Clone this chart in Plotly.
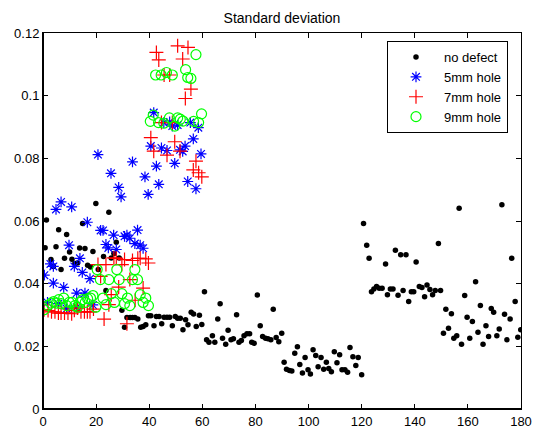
import plotly.graph_objects as go

# ---- data ----
nd_x = [0.8, 1.3, 3.0, 3.9, 4.9, 5.9, 6.8, 8.1, 8.9, 10.0, 10.9, 12.0, 13.0, 13.8, 14.9, 15.8,
        16.8, 17.9, 18.8, 19.9, 20.8, 22.8, 23.7, 24.8, 25.7, 26.7, 27.6, 28.7, 29.7, 30.7,
        31.6, 32.8, 33.7, 34.6, 35.7, 36.8, 37.7, 38.7, 39.7, 40.6, 41.8, 42.7, 43.7, 44.7,
        45.6, 46.7, 47.7, 48.7, 49.8, 50.7, 51.7, 52.7, 53.7, 54.6, 55.8, 56.7, 57.7, 58.9,
        59.8, 60.8, 61.6, 62.5, 63.8, 64.7, 65.8, 66.7, 67.6, 68.8, 69.7, 70.8, 71.7, 72.9,
        73.8, 74.7, 75.7, 76.8, 77.8, 78.6, 79.5, 80.7, 81.8, 82.7, 83.8, 84.7, 85.8, 86.7,
        87.8, 88.8, 89.9, 90.8, 91.7, 92.8, 93.7, 94.8, 95.8, 96.7, 97.7, 98.7, 99.8, 100.7,
        101.7, 102.7, 103.6, 104.7, 105.7, 106.7, 107.6, 108.6, 109.7, 110.7, 111.7, 112.6,
        113.7, 114.7, 115.6, 116.7, 117.8, 118.7, 120.0, 120.7, 121.9, 122.8, 123.7, 124.6,
        125.6, 126.6, 127.7, 129.0, 129.7, 130.8, 131.8, 132.7, 133.7, 134.7, 135.6, 136.7,
        137.7, 138.7, 139.6, 140.5, 141.7, 142.7, 143.7, 144.6, 145.7, 146.7, 147.7, 148.9,
        149.7, 150.8, 151.7, 152.7, 153.8, 154.7, 155.8, 156.7, 157.6, 158.8, 159.7, 160.7,
        161.7, 162.9, 163.8, 164.7, 165.7, 166.8, 167.8, 168.8, 169.7, 170.9, 171.8, 172.8,
        173.8, 174.7, 175.9, 176.5, 177.8, 178.8, 179.9]
nd_y = [0.0515, 0.0603, 0.0477, 0.0455, 0.0518, 0.0572, 0.0445, 0.0481, 0.0557, 0.0501, 0.0478,
        0.0464, 0.0466, 0.0514, 0.0592, 0.0512, 0.0459, 0.0453, 0.0503, 0.0656, 0.0445, 0.0487,
        0.0378, 0.0628, 0.0482, 0.0496, 0.0532, 0.0482, 0.0315, 0.0261, 0.0292, 0.0292, 0.0292,
        0.0292, 0.0287, 0.0261, 0.0263, 0.0269, 0.0298, 0.0298, 0.0266, 0.0295, 0.0295, 0.0272,
        0.0293, 0.0293, 0.0293, 0.0266, 0.0295, 0.0290, 0.0290, 0.0253, 0.0285, 0.0269, 0.0309,
        0.0303, 0.0263, 0.0299, 0.0270, 0.0374, 0.0221, 0.0213, 0.0234, 0.0213, 0.0287, 0.0336,
        0.0226, 0.0207, 0.0251, 0.0221, 0.0224, 0.0301, 0.0213, 0.0219, 0.0234, 0.0240, 0.0240,
        0.0213, 0.0210, 0.0364, 0.0266, 0.0231, 0.0226, 0.0224, 0.0221, 0.0318, 0.0228, 0.0215,
        0.0242, 0.0149, 0.0127, 0.0123, 0.0121, 0.0178, 0.0199, 0.0142, 0.0115, 0.0164, 0.0125,
        0.0112, 0.0189, 0.0171, 0.0135, 0.0164, 0.0127, 0.0149, 0.0129, 0.0119, 0.0183, 0.0148,
        0.0173, 0.0125, 0.0125, 0.0117, 0.0196, 0.0167, 0.0139, 0.0164, 0.0109, 0.0592, 0.0523,
        0.0481, 0.0374, 0.0383, 0.0391, 0.0385, 0.0385, 0.0463, 0.0365, 0.0383, 0.0383, 0.0507,
        0.0363, 0.0492, 0.0378, 0.0492, 0.0343, 0.0374, 0.0374, 0.0469, 0.0391, 0.0388, 0.0358,
        0.0396, 0.0381, 0.0365, 0.0378, 0.0528, 0.0378, 0.0242, 0.0318, 0.0258, 0.0304, 0.0226,
        0.0234, 0.0641, 0.0207, 0.0362, 0.0293, 0.0226, 0.0279, 0.0406, 0.0245, 0.0330, 0.0207,
        0.0266, 0.0231, 0.0321, 0.0309, 0.0234, 0.0255, 0.0652, 0.0302, 0.0221, 0.0287, 0.0481,
        0.0343, 0.0229, 0.0253]

h5_x = [0.5, 1.7, 2.8, 3.9, 3.9, 4.9, 5.8, 6.8, 7.8, 8.9, 9.8, 10.8, 11.8, 12.7, 12.7, 13.9,
        14.8, 15.8, 16.7, 17.7, 18.8, 20.7, 21.7, 22.6, 23.7, 24.6, 25.6, 26.6, 27.6, 28.5,
        29.4, 30.7, 31.6, 32.7, 33.7, 34.6, 35.6, 36.6, 37.7, 38.4, 39.6, 40.6, 41.7, 42.7,
        43.6, 44.6, 45.5, 46.7, 47.7, 48.7, 49.6, 50.7, 51.6, 52.6, 53.5, 54.5, 55.5, 56.6,
        57.6, 58.5, 59.5]
h5_y = [0.0427, 0.0340, 0.0463, 0.0455, 0.0402, 0.0637, 0.0336, 0.0661, 0.0388, 0.0320, 0.0523,
        0.0645, 0.0455, 0.0325, 0.0370, 0.0481, 0.0436, 0.0370, 0.0596, 0.0416, 0.0332, 0.0812,
        0.0570, 0.0570, 0.0525, 0.0514, 0.0752, 0.0555, 0.0509, 0.0707, 0.0677, 0.0551, 0.0555,
        0.0545, 0.0789, 0.0528, 0.0571, 0.0523, 0.0513, 0.0741, 0.0685, 0.0839, 0.0946, 0.0775,
        0.0717, 0.0833, 0.0914, 0.0825, 0.0916, 0.0903, 0.0784, 0.0906, 0.0827, 0.0822, 0.0839,
        0.0726, 0.0914, 0.0862, 0.0703, 0.0898, 0.0814]

h7_x = [0.4, 1.9, 3.2, 4.5, 5.8, 6.8, 8.1, 9.4, 10.8, 11.8, 13.0, 14.3, 15.6, 16.7, 17.7, 19.0,
        20.7, 21.7, 23.0, 23.7, 24.8, 25.7, 26.7, 27.6, 28.5, 29.7, 30.7, 31.6, 32.7, 33.7,
        34.7, 35.7, 36.6, 37.7, 38.7, 39.7, 40.6, 41.7, 42.7, 43.6, 44.6, 45.6, 46.7, 47.7,
        48.7, 49.6, 50.7, 51.6, 52.6, 53.6, 54.6, 55.7, 56.6, 57.6, 58.6, 59.8]
h7_y = [0.0317, 0.0314, 0.0310, 0.0310, 0.0306, 0.0306, 0.0306, 0.0306, 0.0304, 0.0315, 0.0322,
        0.0310, 0.0310, 0.0310, 0.0310, 0.0319, 0.0461, 0.0423, 0.0287, 0.0461, 0.0333, 0.0365,
        0.0482, 0.0481, 0.0389, 0.0461, 0.0477, 0.0272, 0.0413, 0.0474, 0.0347, 0.0481, 0.0481,
        0.0386, 0.0479, 0.0466, 0.0866, 0.0823, 0.1138, 0.1114, 0.0914, 0.1066, 0.0810, 0.1066,
        0.0914, 0.0853, 0.1159, 0.0823, 0.1117, 0.0991, 0.1154, 0.1021, 0.0763, 0.0791, 0.0754,
        0.0741]

h9_x = [0.4, 1.9, 3.0, 4.0, 5.0, 5.9, 6.8, 7.8, 8.9, 9.9, 10.9, 12.0, 13.0, 13.9, 14.9, 15.9,
        16.8, 17.9, 18.8, 19.9, 20.4, 21.6, 22.6, 23.7, 24.8, 25.7, 26.9, 27.8, 28.7, 29.7,
        30.7, 31.8, 32.7, 33.7, 34.6, 35.6, 36.6, 37.7, 38.7, 39.7, 40.4, 41.5, 42.4, 43.5,
        44.5, 45.5, 46.5, 47.6, 48.7, 49.6, 50.7, 51.7, 52.7, 53.7, 54.5, 55.7, 56.7, 57.6,
        58.6, 59.7]
h9_y = [0.0317, 0.0331, 0.0338, 0.0343, 0.0338, 0.0349, 0.0336, 0.0354, 0.0330, 0.0340, 0.0340,
        0.0330, 0.0325, 0.0340, 0.0349, 0.0340, 0.0352, 0.0354, 0.0362, 0.0325, 0.0445, 0.0413,
        0.0354, 0.0333, 0.0413, 0.0368, 0.0340, 0.0445, 0.0413, 0.0368, 0.0336, 0.0354, 0.0330,
        0.0413, 0.0445, 0.0413, 0.0365, 0.0340, 0.0354, 0.0330, 0.0918, 0.0938, 0.1066, 0.0914,
        0.1066, 0.0912, 0.1074, 0.0929, 0.1066, 0.0903, 0.0929, 0.0925, 0.0919, 0.1083, 0.1058,
        0.1055, 0.0918, 0.1131, 0.0914, 0.0942]

x_ticks = [0, 20, 40, 60, 80, 100, 120, 140, 160, 180]
y_ticks = [0, 0.02, 0.04, 0.06, 0.08, 0.1, 0.12]
y_tick_text = ["0", "0.02", "0.04", "0.06", "0.08", "0.1", "0.12"]

FONT = "Arial, Liberation Sans, Helvetica, sans-serif"

fig = go.Figure()
fig.add_trace(go.Scatter(x=nd_x, y=nd_y, mode="markers", name="no defect",
                         marker=dict(symbol="circle", size=5.5, color="black")))
fig.add_trace(go.Scatter(x=h5_x, y=h5_y, mode="markers", name="5mm hole",
                         marker=dict(symbol="asterisk-open", size=9, color="#0000ff",
                                     line=dict(color="#0000ff", width=1.2))))
fig.add_trace(go.Scatter(x=h7_x, y=h7_y, mode="markers", name="7mm hole",
                         marker=dict(symbol="cross-thin-open", size=10, color="#ff0000",
                                     line=dict(color="#ff0000", width=1.2))))
fig.add_trace(go.Scatter(x=h9_x, y=h9_y, mode="markers", name="9mm hole",
                         marker=dict(symbol="circle-open", size=10, color="#00ff00",
                                     line=dict(color="#00ff00", width=1.2))))

axis_common = dict(showgrid=False, zeroline=False, showline=True, linecolor="black",
                   linewidth=1, mirror="allticks", ticks="inside", ticklen=5,
                   tickcolor="black", automargin=False,
                   tickfont=dict(family=FONT, size=13, color="black"))

fig.update_layout(
    width=535, height=429,
    margin=dict(l=43, r=14, t=33, b=20, autoexpand=False),
    paper_bgcolor="white", plot_bgcolor="white",
    title=dict(text="Standard deviation", x=(43 + 521) / 2 / 535, xanchor="center",
               y=1 - 18 / 429, yanchor="middle",
               font=dict(family=FONT, size=14, color="black")),
    xaxis=dict(range=[0, 180], tickvals=x_ticks, **axis_common),
    yaxis=dict(range=[0, 0.12], tickvals=y_ticks, ticktext=y_tick_text, **axis_common),
    showlegend=True,
    legend=dict(x=(387 - 43) / 478, y=(409 - 41) / 376, xanchor="left", yanchor="top",
                bgcolor="white", bordercolor="black", borderwidth=1,
                font=dict(family=FONT, size=13, color="black"),
                itemwidth=46, tracegroupgap=0),
    shapes=[
        dict(type="line", xref="paper", yref="paper", x0=0, x1=0, y0=0, y1=1,
             line=dict(color="black", width=2)),
        dict(type="line", xref="paper", yref="paper", x0=0, x1=1, y0=0, y1=0,
             line=dict(color="black", width=2)),
    ],
)

fig.write_html("out.html")
